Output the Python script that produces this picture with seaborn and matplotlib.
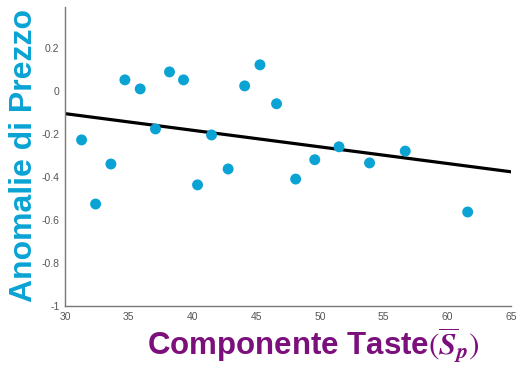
import numpy as np
import pandas as pd
import matplotlib
matplotlib.use("Agg")
import matplotlib.pyplot as plt
import seaborn as sns

# Taste component vs. price anomaly
taste = [31.3, 32.4, 33.6, 34.7, 35.9, 37.1, 38.2, 39.3, 40.4, 41.5,
         42.8, 44.1, 45.3, 46.6, 48.1, 49.6, 51.5, 53.9, 56.7, 61.6]
anomaly = [-0.228, -0.526, -0.340, 0.051, 0.009, -0.177, 0.088, 0.051, -0.437, -0.205,
           -0.363, 0.023, 0.121, -0.060, -0.410, -0.320, -0.260, -0.335, -0.280, -0.563]
x_ticks = [30, 35, 40, 45, 50, 55, 60, 65]
y_ticks = [-1, -0.8, -0.6, -0.4, -0.2, 0, 0.2]
y_tick_labels = ["-1", "-0.8", "-0.6", "-0.4", "-0.2", "0", "0.2"]

df = pd.DataFrame({"taste": taste, "anomaly": anomaly})

sns.set_theme(style="white")
plt.rcParams["font.family"] = ["Liberation Sans", "DejaVu Sans"]
plt.rcParams["mathtext.fontset"] = "stix"

fig = plt.figure(figsize=(5.18, 3.65), dpi=100)
ax = fig.add_axes([0.1255, 0.1616, 0.861, 0.8194])
ax.set_xlim(30, 65)
ax.set_ylim(-1, 0.39)

sns.regplot(data=df, x="taste", y="anomaly", ax=ax, ci=None, truncate=False,
            scatter_kws=dict(s=62, color="#0aa3d4", edgecolor="none", alpha=1, zorder=3),
            line_kws=dict(color="black", lw=2.3, zorder=2))

ax.set_xticks(x_ticks)
ax.set_yticks(y_ticks)
ax.set_yticklabels(y_tick_labels)
ax.tick_params(direction="in", length=3, width=0.8, colors="#777777",
               labelcolor="#555555", labelsize=7.5, pad=4)
for side in ("top", "right"):
    ax.spines[side].set_visible(False)
for side in ("left", "bottom"):
    ax.spines[side].set_color("#777777")
    ax.spines[side].set_linewidth(1.0)

ax.set_xlabel("")
ax.set_ylabel("")
fig.text(0.046, 0.575, "Anomalie di Prezzo", rotation=90, ha="center", va="center",
         fontsize=23, fontweight="bold", color="#0aa3d4")
fig.text(0.605, 0.054, r"Componente Taste$(\overline{\mathbfit{S}}_{\mathbfit{p}})$",
         ha="center", va="center",
         fontsize=22.5, fontweight="bold", color="#7b0f7b")

fig.savefig("out.png", dpi=100)
